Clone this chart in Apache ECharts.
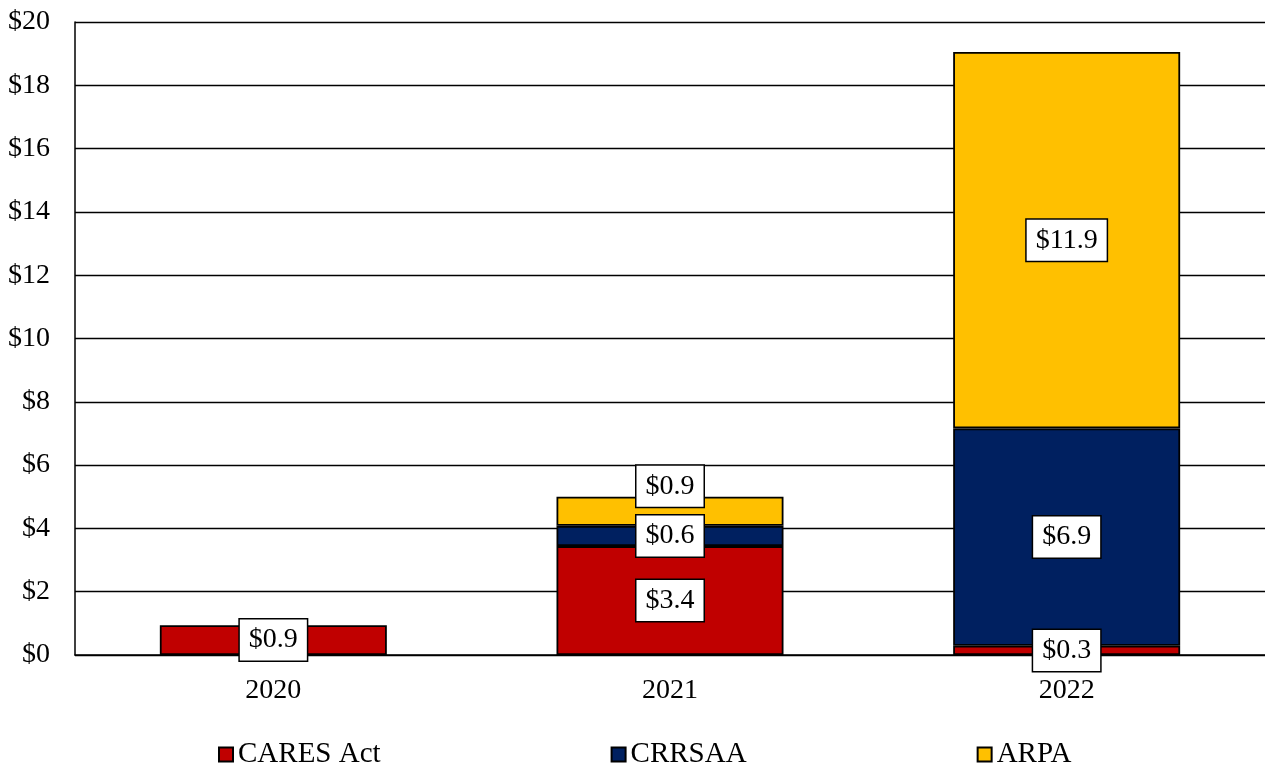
<!DOCTYPE html>
<html>
<head>
<meta charset="utf-8">
<script src="https://cdn.jsdelivr.net/npm/echarts@6/dist/echarts.min.js"></script>
<style>
html,body{margin:0;padding:0;background:#fff;}
#chart{width:1265px;height:769px;}
</style>
</head>
<body>
<div id="chart"></div>
<script>
var categories = ['2020', '2021', '2022'];
var caresAct = [0.94, 3.44, 0.29];
var crrsaa = [null, 0.64, 6.87];
var arpa = [null, 0.92, 11.89];
var seriesNames = ['CARES Act', 'CRRSAA', 'ARPA'];

var FONT = "'Liberation Serif', 'Times New Roman', serif";
var colors = ['#C00000', '#002060', '#FFC000'];

var labelStyle = {
  show: true,
  position: 'inside',
  formatter: function (p) { return '$' + p.value.toFixed(1); },
  backgroundColor: '#fff',
  borderColor: '#000',
  borderWidth: 1.5,
  padding: [8, 9, 5, 9],
  color: '#000',
  fontSize: 28,
  fontFamily: FONT
};

function mk(name, values, color, labelOverrides) {
  return {
    name: name,
    type: 'bar',
    stack: 'total',
    barWidth: 227,
    data: values.map(function (v, i) {
      var d = { value: v };
      if (labelOverrides && labelOverrides[i]) d.label = labelOverrides[i];
      return d;
    }),
    itemStyle: { color: color, borderColor: '#000', borderWidth: 1.8 },
    label: labelStyle
  };
}

var chart = echarts.init(document.getElementById('chart'));
chart.setOption({
  animation: false,
  color: colors,
  grid: { left: 75, right: 0, top: 22, bottom: 114, containLabel: false },
  legend: {
    data: seriesNames,
    left: 218,
    top: 740,
    padding: 0,
    itemWidth: 14,
    itemHeight: 14,
    itemGap: 230,
    textStyle: { fontSize: 29, fontFamily: FONT, color: '#000' },
    icon: 'rect'
  },
  xAxis: {
    type: 'category',
    data: categories,
    axisLine: { show: true, lineStyle: { color: '#000', width: 1.5 } },
    axisTick: { show: false },
    axisLabel: { fontSize: 28, fontFamily: FONT, color: '#000', margin: 22 }
  },
  yAxis: {
    type: 'value',
    min: 0,
    max: 20,
    interval: 2,
    axisLine: { show: true, lineStyle: { color: '#000', width: 1.5 } },
    axisTick: { show: false },
    splitLine: { show: true, lineStyle: { color: '#000', width: 1.3 } },
    axisLabel: {
      fontSize: 28, fontFamily: FONT, color: '#000', margin: 25,
      formatter: function (v) { return '$' + v; }
    }
  },
  series: [
    mk(seriesNames[0], caresAct, colors[0]),
    mk(seriesNames[1], crrsaa, colors[1]),
    mk(seriesNames[2], arpa, colors[2], { 1: { offset: [0, -25] } })
  ]
});
</script>
</body>
</html>
